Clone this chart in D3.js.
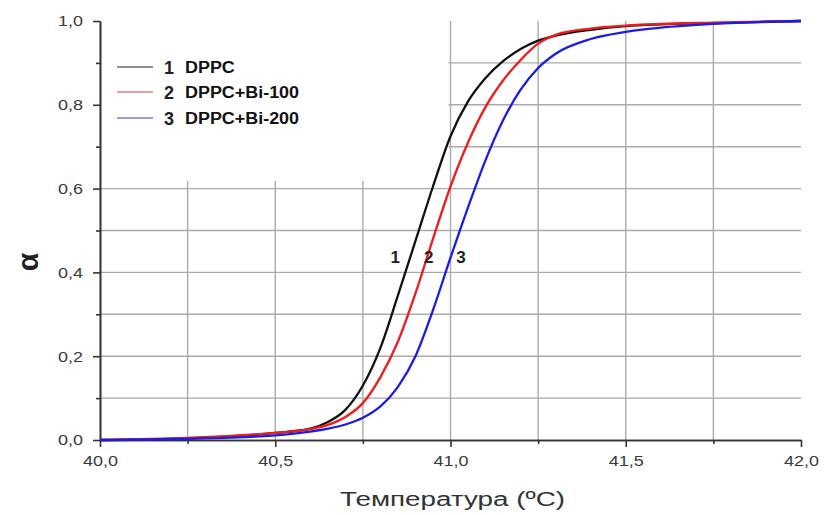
<!DOCTYPE html>
<html>
<head>
<meta charset="utf-8">
<script src="https://cdn.jsdelivr.net/npm/d3@7"></script>
<style>
  html, body { margin: 0; padding: 0; background: #fff; }
  svg { display: block; }
  text { font-family: "Liberation Sans", Arial, sans-serif; }
</style>
</head>
<body>
<svg id="chart" width="824" height="515"></svg>
<script>
// Degree of melting α versus temperature for three lipid samples
const temperature = [40.0, 40.25, 40.5, 40.6, 40.65, 40.7, 40.75, 40.8, 40.85, 40.9, 40.95,
                     41.0, 41.05, 41.1, 41.15, 41.2, 41.25, 41.3, 41.4, 41.5, 41.6, 41.75, 42.0];
const alphaDPPC   = [0.0, 0.004, 0.017, 0.027, 0.043, 0.072, 0.13, 0.22, 0.345, 0.475, 0.605,
                     0.725, 0.808, 0.864, 0.904, 0.933, 0.953, 0.965, 0.979, 0.988, 0.992, 0.995, 1.0];
const alphaBi100  = [0.0, 0.005, 0.017, 0.026, 0.036, 0.055, 0.088, 0.15, 0.235, 0.35, 0.48,
                     0.605, 0.71, 0.795, 0.858, 0.907, 0.946, 0.967, 0.982, 0.989, 0.993, 0.996, 1.0];
const alphaBi200  = [0.0, 0.003, 0.011, 0.02, 0.027, 0.037, 0.053, 0.08, 0.127, 0.2, 0.31,
                     0.435, 0.555, 0.668, 0.763, 0.836, 0.888, 0.922, 0.957, 0.974, 0.984, 0.993, 1.0];

const seriesNumbers = ["1", "2", "3"];
const seriesNames   = ["DPPC", "DPPC+Bi-100", "DPPC+Bi-200"];
const seriesColors  = ["#111111", "#ee1c1c", "#1c1ce8"];
const legendColors  = ["#6a6a6a", "#e07a7a", "#7a7ad6"];
// temperatures where the curve numbers are written
const curveLabelX   = [40.842, 40.938, 41.03];
const curveLabelY   = 0.44;

const xMajorTicks = [40.0, 40.5, 41.0, 41.5, 42.0];
const xMinorTicks = [40.25, 40.75, 41.25, 41.75];
const yMajorTicks = [0.0, 0.2, 0.4, 0.6, 0.8, 1.0];
const yMinorTicks = [0.1, 0.3, 0.5, 0.7, 0.9];
const xGrid = [40.25, 40.5, 40.75, 41.0, 41.25, 41.5, 41.75];
const yGrid = [0.1, 0.2, 0.3, 0.4, 0.5, 0.6, 0.7, 0.8, 0.9];

const xTitle = "Температура (ºC)";
const yTitle = "α";

const series = [alphaDPPC, alphaBi100, alphaBi200].map((vals, i) => ({
  number: seriesNumbers[i],
  name: seriesNames[i],
  color: seriesColors[i],
  legendColor: legendColors[i],
  points: temperature.map((t, j) => ({ t, a: vals[j] }))
}));

const svg = d3.select("#chart");
const plotLeft = 100, plotRight = 801, plotTop = 21, plotBottom = 440;

const x = d3.scaleLinear().domain([40, 42]).range([plotLeft, plotRight]);
const y = d3.scaleLinear().domain([0, 1]).range([plotBottom, plotTop]);
const comma = v => d3.format(".1f")(v).replace(".", ",");

// stretch text horizontally by a factor
function widen(sel, k) {
  sel.each(function () {
    const w = this.getComputedTextLength();
    d3.select(this).attr("textLength", w * k).attr("lengthAdjust", "spacingAndGlyphs");
  });
}

// grid
const grid = svg.append("g").attr("stroke", "#aaaaaa").attr("stroke-width", 1.4);
grid.selectAll("line.v").data(xGrid).join("line").attr("class", "v")
  .attr("x1", d => x(d)).attr("x2", d => x(d))
  .attr("y1", y(0)).attr("y2", y(1));
grid.selectAll("line.h").data(yGrid).join("line").attr("class", "h")
  .attr("x1", x(40)).attr("x2", x(42))
  .attr("y1", d => y(d)).attr("y2", d => y(d));

// legend panel hides the grid behind it
svg.append("rect")
  .attr("x", plotLeft + 1).attr("y", plotTop)
  .attr("width", x(41.0) - plotLeft - 3).attr("height", 160)
  .attr("fill", "#fff");

// axes
const xAxisMajor = d3.axisBottom(x).tickValues(xMajorTicks).tickSize(7).tickSizeOuter(0).tickFormat(comma);
const xAxisMinor = d3.axisBottom(x).tickValues(xMinorTicks).tickSize(4).tickSizeOuter(0).tickFormat("");
const yAxisMajor = d3.axisLeft(y).tickValues(yMajorTicks).tickSize(7).tickSizeOuter(0).tickFormat(comma);
const yAxisMinor = d3.axisLeft(y).tickValues(yMinorTicks).tickSize(4).tickSizeOuter(0).tickFormat("");

function styleAxis(g) {
  g.select(".domain").attr("stroke", "#333").attr("stroke-width", 1.6);
  g.selectAll(".tick line").attr("stroke", "#333").attr("stroke-width", 1.6);
  g.selectAll(".tick text").attr("fill", "#3a3a3a").style("font-size", "15px")
    .style("font-family", "'Liberation Sans', Arial, sans-serif");
}

const gx = svg.append("g").attr("transform", `translate(0,${plotBottom})`).call(xAxisMajor).call(styleAxis);
gx.selectAll(".tick text").attr("dy", "1.05em");
widen(gx.selectAll(".tick text"), 1.2);
svg.append("g").attr("transform", `translate(0,${plotBottom})`).call(xAxisMinor).call(styleAxis);

const gy = svg.append("g").attr("transform", `translate(${plotLeft},0)`).call(yAxisMajor).call(styleAxis);
gy.selectAll(".tick text").attr("x", -17);
widen(gy.selectAll(".tick text"), 1.2);
svg.append("g").attr("transform", `translate(${plotLeft},0)`).call(yAxisMinor).call(styleAxis);

// curves
const line = d3.line().x(d => x(d.t)).y(d => y(d.a)).curve(d3.curveMonotoneX);
svg.append("g").selectAll("path").data(series).join("path")
  .attr("d", d => line(d.points))
  .attr("fill", "none")
  .attr("stroke", d => d.color)
  .attr("stroke-width", 2.3)
  .attr("stroke-linejoin", "round");

// curve numbers
svg.append("g").selectAll("text").data(series).join("text")
  .attr("x", (d, i) => x(curveLabelX[i]))
  .attr("y", y(curveLabelY) + 7)
  .attr("text-anchor", "middle")
  .attr("fill", "#222")
  .style("font-size", "17px")
  .style("font-weight", "bold")
  .text(d => d.number);

// legend
const legend = svg.append("g");
const rowY = [67, 92, 118];
const items = legend.selectAll("g").data(series).join("g")
  .attr("transform", (d, i) => `translate(0,${rowY[i]})`);
items.append("line")
  .attr("x1", 117).attr("x2", 153).attr("y1", 0).attr("y2", 0)
  .attr("stroke", d => d.legendColor).attr("stroke-width", 1.4);
items.append("text")
  .attr("x", 164).attr("y", 7)
  .attr("fill", "#222")
  .style("font-size", "18px").style("font-weight", "bold")
  .text(d => d.number);
items.append("text")
  .attr("x", 185).attr("y", 6)
  .attr("fill", "#111")
  .style("font-size", "16px").style("font-weight", "bold")
  .text(d => d.name)
  .call(widen, 1.12);

// axis titles
svg.append("text")
  .attr("x", (plotLeft + plotRight) / 2 + 2).attr("y", 506)
  .attr("text-anchor", "middle")
  .attr("fill", "#333")
  .style("font-size", "20px")
  .attr("textLength", 225).attr("lengthAdjust", "spacingAndGlyphs")
  .text(xTitle);

svg.append("text")
  .attr("transform", `translate(38,262) rotate(-90)`)
  .attr("text-anchor", "middle")
  .attr("fill", "#222")
  .style("font-size", "30px")
  .style("font-weight", "bold")
  .text(yTitle);
</script>
</body>
</html>
